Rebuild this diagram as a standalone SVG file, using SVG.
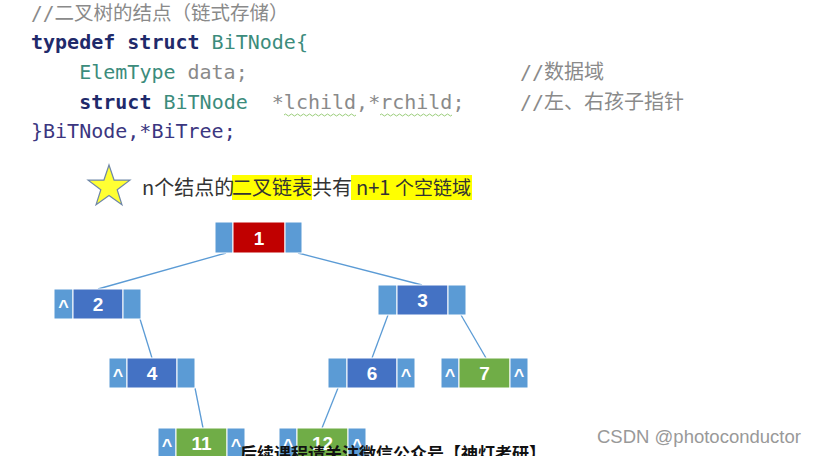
<svg xmlns="http://www.w3.org/2000/svg" width="821" height="456" viewBox="0 0 821 456">
<style>
.code{font-family:"DejaVu Sans Mono","Noto Sans CJK SC",monospace;font-size:20px}
.kw{fill:#1f2a6b;font-weight:bold}
.ty{fill:#3c8c7c}
.gr{fill:#8a8a8a}
.pu{fill:#3b3680}
.cn{font-family:"Noto Sans CJK SC",sans-serif;font-size:20px;fill:#333}
.hl{fill:#ffff00}
.side{fill:#5b9bd5;stroke:#fff;stroke-width:1}
.blue{fill:#4472c4;stroke:#fff;stroke-width:1}
.red{fill:#c00000;stroke:#fff;stroke-width:1}
.green{fill:#70ad47;stroke:#fff;stroke-width:1}
.num{font-family:"Liberation Sans",Arial,sans-serif;font-size:19px;font-weight:bold;fill:#fff;text-anchor:middle}
.car{font-family:"Liberation Sans",Arial,sans-serif;font-size:18px;font-weight:bold;fill:#fff;text-anchor:middle}
.edge{stroke:#5b9bd5;stroke-width:1.3;fill:none}
.wave{stroke:#9acd7a;stroke-width:1;fill:none}
</style>
<rect width="821" height="456" fill="#fff"/>
<g id="code">
<text class="code gr" x="31" y="20" style="font-size:19.5px">//二叉树的结点（链式存储）</text>
<text class="code kw" x="31" y="49">typedef struct</text>
<text class="code ty" x="211.6" y="49">BiTNode{</text>
<text class="code ty" x="79.2" y="79">ElemType</text>
<text class="code gr" x="187.5" y="79">data;</text>
<text class="code gr" x="520" y="79">//数据域</text>
<text class="code kw" x="79.2" y="109">struct</text>
<text class="code ty" x="163.5" y="109">BiTNode</text>
<text class="code gr" x="271.8" y="109">*lchild,*rchild;</text>
<text class="code gr" x="520" y="109">//左、右孩子指针</text>
<text class="code pu" x="31" y="138">}BiTNode,*BiTree;</text>
<path class="wave" d="M284,115 q1.5,-2 3,0 t3,0 t3,0 t3,0 t3,0 t3,0 t3,0 t3,0 t3,0 t3,0 t3,0 t3,0 t3,0 t3,0 t3,0 t3,0 t3,0 t3,0 t3,0 t3,0 t3,0 t3,0 t3,0 t3,0"/>
<path class="wave" d="M380,115 q1.5,-2 3,0 t3,0 t3,0 t3,0 t3,0 t3,0 t3,0 t3,0 t3,0 t3,0 t3,0 t3,0 t3,0 t3,0 t3,0 t3,0 t3,0 t3,0 t3,0 t3,0 t3,0 t3,0 t3,0 t3,0"/>
</g>
<g id="note">
<path d="M109,165 L114.06,180.04 L129.92,180.2 L117.18,189.66 L121.93,204.8 L109,195.6 L96.07,204.8 L100.82,189.66 L88.08,180.2 L103.94,180.04 Z" fill="#ffff33" stroke="#6f87a8" stroke-width="1.2"/>
<rect class="hl" x="232" y="175" width="80" height="25"/>
<rect class="hl" x="351" y="175" width="121" height="25"/>
<text class="cn" x="142" y="195">n个结点的</text>
<text class="cn" x="232" y="195">二叉链表</text>
<text class="cn" x="312" y="195">共有</text>
<text class="cn" x="356" y="195">n+1</text>
<text class="cn" x="395" y="195" style="font-size:19px">个空链域</text>
</g>
<g id="connectors">
<line class="edge" x1="226" y1="253" x2="98" y2="289"/>
<line class="edge" x1="298" y1="253" x2="422" y2="285"/>
<line class="edge" x1="140" y1="319" x2="152" y2="358"/>
<line class="edge" x1="388" y1="315" x2="372" y2="358"/>
<line class="edge" x1="461" y1="315" x2="486" y2="358"/>
<line class="edge" x1="195" y1="388" x2="203" y2="428"/>
<line class="edge" x1="338" y1="388" x2="322" y2="428"/>
</g>
<g id="node1">
<rect class="side" x="215" y="222" width="18" height="31"/>
<rect class="red" x="233" y="222" width="52" height="31"/>
<rect class="side" x="285" y="222" width="17" height="31"/>
<text class="num" x="259" y="244.5">1</text>
</g>
<g id="node2">
<rect class="side" x="54" y="289" width="19" height="30"/>
<rect class="blue" x="73" y="289" width="50" height="30"/>
<rect class="side" x="123" y="289" width="18" height="30"/>
<text class="car" x="63.5" y="313">^</text>
<text class="num" x="98" y="311">2</text>
</g>
<g id="node3">
<rect class="side" x="378" y="285" width="19" height="30"/>
<rect class="blue" x="397" y="285" width="51" height="30"/>
<rect class="side" x="448" y="285" width="18" height="30"/>
<text class="num" x="422.5" y="307">3</text>
</g>
<g id="node4">
<rect class="side" x="109" y="358" width="18" height="30"/>
<rect class="blue" x="127" y="358" width="50" height="30"/>
<rect class="side" x="177" y="358" width="18" height="30"/>
<text class="car" x="118" y="382">^</text>
<text class="num" x="152" y="380">4</text>
</g>
<g id="node6">
<rect class="side" x="328" y="358" width="19" height="30"/>
<rect class="blue" x="347" y="358" width="50" height="30"/>
<rect class="side" x="397" y="358" width="18" height="30"/>
<text class="car" x="406" y="382">^</text>
<text class="num" x="372" y="380">6</text>
</g>
<g id="node7">
<rect class="side" x="441" y="358" width="18" height="30"/>
<rect class="green" x="459" y="358" width="51" height="30"/>
<rect class="side" x="510" y="358" width="18" height="30"/>
<text class="car" x="450" y="382">^</text>
<text class="car" x="519" y="382">^</text>
<text class="num" x="484.5" y="380">7</text>
</g>
<g id="node11">
<rect class="side" x="158" y="428" width="18" height="30"/>
<rect class="green" x="176" y="428" width="51" height="30"/>
<rect class="side" x="227" y="428" width="18" height="30"/>
<text class="car" x="167" y="452">^</text>
<text class="car" x="236" y="452">^</text>
<text class="num" x="201.5" y="450">11</text>
</g>
<g id="node12">
<rect class="side" x="279" y="428" width="18" height="30"/>
<rect class="green" x="297" y="428" width="51" height="30"/>
<rect class="side" x="348" y="428" width="18" height="30"/>
<text class="car" x="288" y="452">^</text>
<text class="car" x="357" y="452">^</text>
<text class="num" x="322.5" y="450">12</text>
</g>
<g id="watermarks">
<text x="240" y="460" font-family="Noto Sans CJK SC, sans-serif" font-size="17" font-weight="bold" fill="#111">后续课程请关注微信公众号【神灯考研】</text>
<text x="597" y="443" font-family="Liberation Sans, Arial, sans-serif" font-size="18.5" fill="#999">CSDN @photoconductor</text>
</g>
</svg>
